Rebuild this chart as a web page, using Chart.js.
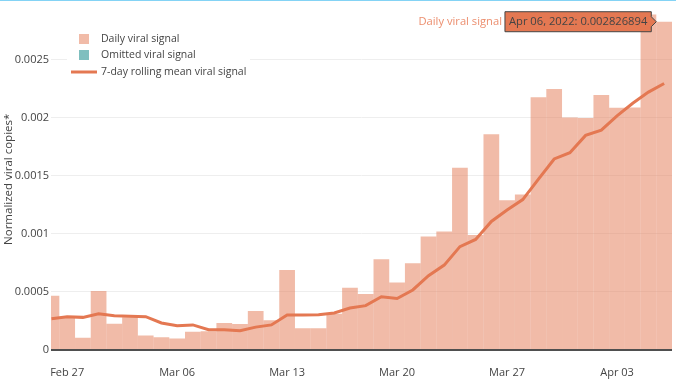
<!DOCTYPE html>
<html>
<head>
<meta charset="utf-8">
<script src="https://cdn.jsdelivr.net/npm/chart.js@4.4.1/dist/chart.umd.min.js"></script>
<style>
  html, body { margin: 0; padding: 0; background: #fff; }
  #wrap { position: relative; width: 676px; height: 381px; }
  #topline { position: absolute; left: 0; top: 0; width: 676px; height: 1px; background: #84d3f5; z-index: 2; }
  canvas { display: block; }
</style>
</head>
<body>
<div id="wrap">
  <div id="topline"></div>
  <canvas id="c" width="676" height="381"></canvas>
</div>
<script>
// ---- Data ----
const dates = [
  'Feb 26','Feb 27','Feb 28','Mar 01','Mar 02','Mar 03','Mar 04','Mar 05','Mar 06','Mar 07',
  'Mar 08','Mar 09','Mar 10','Mar 11','Mar 12','Mar 13','Mar 14','Mar 15','Mar 16','Mar 17',
  'Mar 18','Mar 19','Mar 20','Mar 21','Mar 22','Mar 23','Mar 24','Mar 25','Mar 26','Mar 27',
  'Mar 28','Mar 29','Mar 30','Mar 31','Apr 01','Apr 02','Apr 03','Apr 04','Apr 05','Apr 06'
];
// day offset of each date from Feb 27, 2022
const dayOffsets = [
  -1, 0, 1, 2, 3, 4, 5, 6, 7, 8,
  9, 10, 11, 12, 13, 14, 15, 16, 17, 18,
  19, 20, 21, 22, 23, 24, 25, 26, 27, 28,
  29, 30, 31, 32, 33, 34, 35, 36, 37, 38
];
const dailySignal = [
  0.000467, 0.000280, 0.000105, 0.000509, 0.000226, 0.000282, 0.000125, 0.000110, 0.000099, 0.000158,
  0.000162, 0.000232, 0.000224, 0.000335, 0.000257, 0.000689, 0.000187, 0.000187, 0.000312, 0.000537,
  0.000483, 0.000781, 0.000582, 0.000747, 0.000978, 0.001020, 0.001570, 0.000990, 0.001857, 0.001289,
  0.001340, 0.002177, 0.002247, 0.002003, 0.001997, 0.002196, 0.002087, 0.002089, 0.002890, 0.002826894
];
const rollingMean = [
  0.000270, 0.000287, 0.000281, 0.000312, 0.000295, 0.000290, 0.000287, 0.000233, 0.000208, 0.000216,
  0.000174, 0.000174, 0.000166, 0.000197, 0.000216, 0.000301, 0.000301, 0.000303, 0.000319, 0.000362,
  0.000382, 0.000458, 0.000443, 0.000517, 0.000640, 0.000731, 0.000890, 0.000952, 0.001107, 0.001205,
  0.001295, 0.001472, 0.001645, 0.001699, 0.001848, 0.001893, 0.002017, 0.002125, 0.002221, 0.002295
];
const omittedSignal = [];
const xTickDays = [0, 7, 14, 21, 28, 35];
const xTickLabels = ['Feb 27', 'Mar 06', 'Mar 13', 'Mar 20', 'Mar 27', 'Apr 03'];
const yTickValues = [0, 0.0005, 0.001, 0.0015, 0.002, 0.0025];
const yTickLabels = ['0', '0.0005', '0.001', '0.0015', '0.002', '0.0025'];
const hoverText = 'Apr 06, 2022: 0.002826894';
const hoverName = 'Daily viral signal';

// ---- Styles ----
const LINE = 'rgb(228,120,82)';
const BAR = 'rgba(228,120,82,0.5)';
const OMIT = 'rgba(0,128,128,0.5)';
const TXT = '#444';
const FONT = '"Open Sans", "DejaVu Sans", sans-serif';

const legendPlugin = {
  id: 'customLegend',
  afterDraw(chart) {
    const ctx = chart.ctx;
    ctx.save();
    ctx.fillStyle = '#fff';
    ctx.fillRect(67, 28, 183, 52);
    ctx.font = '10.5px ' + FONT;
    ctx.textBaseline = 'middle';
    ctx.fillStyle = BAR;
    ctx.fillRect(79, 34, 10, 10);
    ctx.fillStyle = OMIT;
    ctx.fillRect(79, 50, 10, 10);
    ctx.strokeStyle = LINE;
    ctx.lineWidth = 3;
    ctx.beginPath(); ctx.moveTo(71, 72); ctx.lineTo(97, 72); ctx.stroke();
    ctx.fillStyle = TXT;
    const names = chart.data.datasets.map(d => d.label);
    ctx.fillText(names[0], 101, 39.5);
    ctx.fillText(names[1], 101, 55.5);
    ctx.fillText(names[2], 101, 72);
    ctx.restore();
  }
};

const hoverPlugin = {
  id: 'hoverLabel',
  afterDraw(chart) {
    const meta = chart.getDatasetMeta(0);
    const el = meta.data[meta.data.length - 1];
    const ax = el.x - el.width / 2;
    const ay = el.y;
    const ctx = chart.ctx;
    ctx.save();
    ctx.font = '11.2px ' + FONT;
    ctx.textBaseline = 'middle';
    const tw = ctx.measureText(hoverText).width;
    const arrow = 5, h = 20, padX = 4;
    const right = ax - arrow;
    const left = right - tw - 2 * padX;
    const top = ay - h / 2, bottom = ay + h / 2;
    ctx.beginPath();
    ctx.moveTo(ax, ay);
    ctx.lineTo(right, ay - arrow);
    ctx.lineTo(right, top);
    ctx.lineTo(left, top);
    ctx.lineTo(left, bottom);
    ctx.lineTo(right, bottom);
    ctx.lineTo(right, ay + arrow);
    ctx.closePath();
    ctx.fillStyle = LINE;
    ctx.fill();
    ctx.strokeStyle = '#444';
    ctx.lineWidth = 1;
    ctx.stroke();
    ctx.fillStyle = '#444';
    ctx.textAlign = 'left';
    ctx.fillText(hoverText, left + padX, ay + 0.5);
    ctx.fillStyle = 'rgb(236,142,110)';
    ctx.textAlign = 'right';
    ctx.fillText(hoverName, left - 3, ay + 0.5);
    ctx.restore();
  }
};

const barData = dayOffsets.map((d, i) => ({ x: d, y: dailySignal[i] }));
const lineData = dayOffsets.map((d, i) => ({ x: d, y: rollingMean[i] }));

new Chart(document.getElementById('c'), {
  type: 'bar',
  data: {
    datasets: [
      { type: 'bar', label: 'Daily viral signal', data: barData, backgroundColor: BAR,
        borderWidth: 0, barPercentage: 1, categoryPercentage: 1, grouped: false,
        inflateAmount: 0, order: 2 },
      { type: 'bar', label: 'Omitted viral signal', data: omittedSignal, backgroundColor: OMIT,
        borderWidth: 0, barPercentage: 1, categoryPercentage: 1, grouped: false,
        inflateAmount: 0, order: 3 },
      { type: 'line', label: '7-day rolling mean viral signal', data: lineData, borderColor: LINE,
        borderWidth: 3, pointRadius: 0, tension: 0, fill: false, order: 1 }
    ]
  },
  options: {
    responsive: false,
    animation: false,
    events: [],
    layout: { padding: { top: 1, right: 4, left: 0, bottom: 0 } },
    plugins: { legend: { display: false }, tooltip: { enabled: false } },
    scales: {
      x: {
        type: 'linear', min: -1.03, max: 38.5, offset: false,
        grid: { display: false, drawTicks: false },
        border: { display: false },
        afterFit: s => { s.height = 31; },
        afterBuildTicks: s => { s.ticks = xTickDays.map(v => ({ value: v })); },
        ticks: { color: TXT, font: { family: FONT, size: 11 }, padding: 16, maxRotation: 0,
          callback: (v, i) => xTickLabels[i] }
      },
      y: {
        min: 0, max: 0.00294,
        grid: { color: c => (c.tick && c.tick.value === 0) ? 'rgba(60,60,60,0.9)' : '#eeeeee',
                lineWidth: c => (c.tick && c.tick.value === 0) ? 2 : 1, drawTicks: false },
        border: { display: false },
        afterFit: s => { s.width = 51; },
        afterBuildTicks: s => { s.ticks = yTickValues.map(v => ({ value: v })); },
        ticks: { color: TXT, font: { family: FONT, size: 11 }, padding: 2,
          callback: (v, i) => yTickLabels[i] },
        title: { display: true, text: 'Normalized viral copies*', color: TXT,
          font: { family: FONT, size: 11.5 }, padding: { top: 2, bottom: 0 } }
      }
    }
  },
  plugins: [legendPlugin, hoverPlugin]
});
</script>
</body>
</html>
